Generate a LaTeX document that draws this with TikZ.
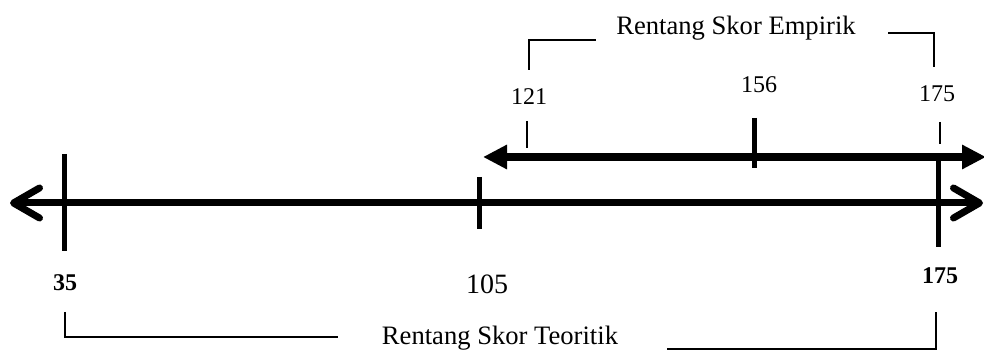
\documentclass[tikz,border=0pt]{standalone}
\usepackage{fontspec}
\setmainfont{Liberation Serif}
\usetikzlibrary{arrows.meta, positioning, calc}

\begin{document}
\begin{tikzpicture}[
        x=0.5pt, y=-0.5pt,
        teori/.style={line width=3.5pt, {Straight Barb[length=13pt, width=15pt, round]}-{Straight Barb[length=13pt, width=15pt, round]}},
        empiri/.style={line width=4pt, {Triangle[length=12pt, width=11.5pt]}-{Triangle[length=12pt, width=11.5pt]}},
        tick/.style={line width=2.5pt},
        thintick/.style={line width=0.7pt},
        bracket/.style={line width=0.6pt},
        num/.style={inner sep=0pt, font=\fontsize{12}{14}\selectfont},
        title/.style={inner sep=0pt, anchor=base, font=\fontsize{13.3}{15}\selectfont},
    ]
        \useasboundingbox (0,0) rectangle (984,351);

        % end points of the two lines
        \coordinate (tL) at (10,203);
        \coordinate (tR) at (983,203);
        \coordinate (eL) at (483,157);
        \coordinate (eR) at (986,157);

        % labels
        \node[num, font=\bfseries\fontsize{12}{14}\selectfont] (n35)  at (65,283)  {35};
        \node[num, font=\fontsize{14}{16}\selectfont]          (n105) at (487,284) {105};
        \node[num, font=\bfseries\fontsize{12}{14}\selectfont] (n175) at (940,276) {175};
        \node[num] (m121) at (529,97)  {121};
        \node[num] (m156) at (759,85)  {156};
        \node[num] (m175) at (937,94)  {175};
        \node[title] (emp) at (736,35)  {Rentang Skor Empirik};
        \node[title] (teo) at (500,345) {Rentang Skor Teoritik};

        % the two lines
        \draw[teori]  (tL) -- (tR);
        \draw[empiri] (eL) -- (eR);

        % ticks
        \draw[tick] (64,154)  -- (64,251);
        \draw[tick] (479,177) -- (479,229);
        \draw[tick] (938,160) -- (938,247);
        \draw[tick] (754,118) -- (754,168);
        \draw[thintick] (527,121) -- (527,148);
        \draw[thintick] (940,122) -- (940,144);

        % brackets
        \draw[bracket] (529,70) |- (596,40);
        \draw[bracket] (888,33) -| (934,67);
        \draw[bracket] (65,312) |- (338,337);
        \draw[bracket] (667,349) -| (936,312);
    \end{tikzpicture}
\end{document}
